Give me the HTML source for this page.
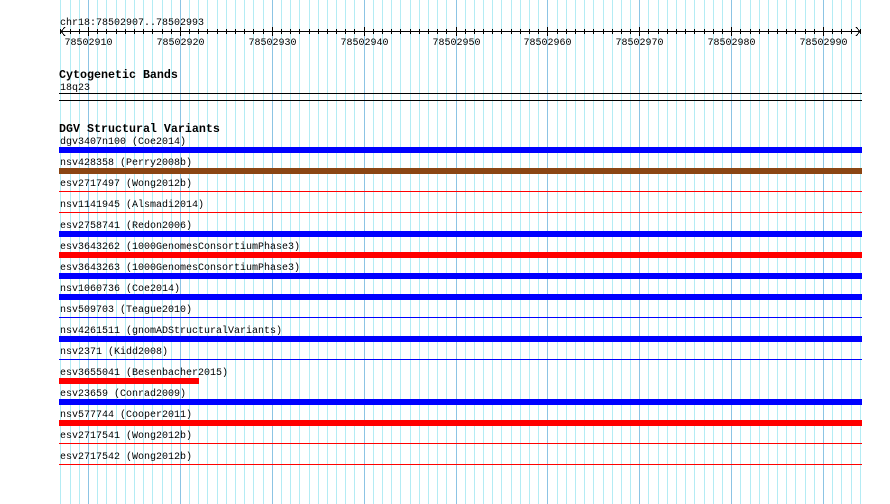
<!DOCTYPE html>
<html><head><meta charset="utf-8"><style>
html,body{margin:0;padding:0;background:#fff;}
svg{display:block;}
text{font-family:"Liberation Mono","DejaVu Sans Mono",monospace;font-size:10px;fill:#000;}
.b{font-weight:bold;font-size:11.67px;}
</style></head><body>
<svg width="890" height="504" viewBox="0 0 890 504" xmlns="http://www.w3.org/2000/svg">
<g id="grid"></g>
<g shape-rendering="crispEdges">
<line x1="60" y1="31.5" x2="861" y2="31.5" stroke="#000"/>
<polyline points="65,27 61,31.5 65,36" fill="none" stroke="#000"/>
<polyline points="856,27 860,31.5 856,36" fill="none" stroke="#000"/>
<g id="ticks" stroke="#000"></g>
<line x1="59" y1="93.5" x2="862" y2="93.5" stroke="#000"/>
<line x1="59" y1="100.5" x2="862" y2="100.5" stroke="#000"/>
<rect x="59" y="147" width="803" height="6" fill="#0000ff"/>
<rect x="59" y="168" width="803" height="6" fill="#8b4513"/>
<rect x="59" y="191" width="803" height="1" fill="#ff0000"/>
<rect x="59" y="212" width="803" height="1" fill="#ff0000"/>
<rect x="59" y="231" width="803" height="6" fill="#0000ff"/>
<rect x="59" y="252" width="803" height="6" fill="#ff0000"/>
<rect x="59" y="273" width="803" height="6" fill="#0000ff"/>
<rect x="59" y="294" width="803" height="6" fill="#0000ff"/>
<rect x="59" y="317" width="803" height="1" fill="#0000ff"/>
<rect x="59" y="336" width="803" height="6" fill="#0000ff"/>
<rect x="59" y="359" width="803" height="1" fill="#0000ff"/>
<rect x="59" y="378" width="140" height="6" fill="#ff0000"/>
<rect x="59" y="399" width="803" height="6" fill="#0000ff"/>
<rect x="59" y="420" width="803" height="6" fill="#ff0000"/>
<rect x="59" y="443" width="803" height="1" fill="#ff0000"/>
<rect x="59" y="464" width="803" height="1" fill="#ff0000"/>
</g>
<text x="60" y="25">chr18:78502907..78502993</text>
<g id="tl"></g>
<text x="59" y="78" class="b">Cytogenetic Bands</text>
<text x="60" y="90">18q23</text>
<text x="59" y="132" class="b">DGV Structural Variants</text>
<text x="60" y="144">dgv3407n100 (Coe2014)</text>
<text x="60" y="165">nsv428358 (Perry2008b)</text>
<text x="60" y="186">esv2717497 (Wong2012b)</text>
<text x="60" y="207">nsv1141945 (Alsmadi2014)</text>
<text x="60" y="228">esv2758741 (Redon2006)</text>
<text x="60" y="249">esv3643262 (1000GenomesConsortiumPhase3)</text>
<text x="60" y="270">esv3643263 (1000GenomesConsortiumPhase3)</text>
<text x="60" y="291">nsv1060736 (Coe2014)</text>
<text x="60" y="312">nsv509703 (Teague2010)</text>
<text x="60" y="333">nsv4261511 (gnomADStructuralVariants)</text>
<text x="60" y="354">nsv2371 (Kidd2008)</text>
<text x="60" y="375">esv3655041 (Besenbacher2015)</text>
<text x="60" y="396">esv23659 (Conrad2009)</text>
<text x="60" y="417">nsv577744 (Cooper2011)</text>
<text x="60" y="438">esv2717541 (Wong2012b)</text>
<text x="60" y="459">esv2717542 (Wong2012b)</text>
</svg>
<script>
(function(){
var ns="http://www.w3.org/2000/svg";
var g=document.getElementById("grid"),t=document.getElementById("ticks"),tl=document.getElementById("tl");
var step=9.1875;
for(var k=-3;k<=84;k++){
  var x=Math.round(88+k*step)+0.5;
  if(x<59||x>862)continue;
  var pos=78502910+k;
  var major=(pos%10===0);
  var l=document.createElementNS(ns,"line");
  l.setAttribute("x1",x);l.setAttribute("x2",x);l.setAttribute("y1",0);l.setAttribute("y2",504);
  l.setAttribute("stroke",major?"#8cc4e4":"#b4ecf4");l.setAttribute("shape-rendering","crispEdges");
  g.appendChild(l);
  var tk=document.createElementNS(ns,"line");
  tk.setAttribute("x1",x);tk.setAttribute("x2",x);
  tk.setAttribute("y1",major?27:29);tk.setAttribute("y2",major?36:34);
  t.appendChild(tk);
  if(major){
    var tx=document.createElementNS(ns,"text");
    tx.setAttribute("x",x);tx.setAttribute("y",45);tx.setAttribute("text-anchor","middle");
    tx.textContent=String(pos);tl.appendChild(tx);
  }
}
})();
</script>
</body></html>
